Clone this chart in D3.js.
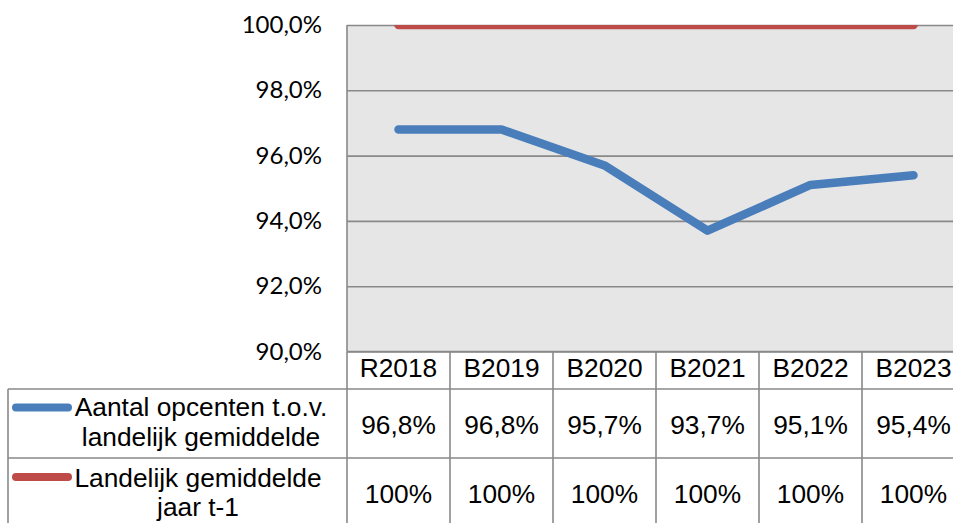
<!DOCTYPE html>
<html>
<head>
<meta charset="utf-8">
<script src="https://cdn.jsdelivr.net/npm/d3@7"></script>
<style>
  body { margin: 0; background: #fff; }
  svg { display: block; }
  .tick-label { font-family: Lato, "Open Sans", sans-serif; font-size: 24px; fill: #000; }
  .tbl { font-family: "Liberation Sans", Arial, sans-serif; font-size: 26.3px; fill: #000; }
</style>
</head>
<body>
<svg id="chart" width="953" height="523"></svg>
<script>
// chart values
var categories = ["R2018", "B2019", "B2020", "B2021", "B2022", "B2023"];
var seriesNames = [["Aantal opcenten t.o.v.", "landelijk gemiddelde"], ["Landelijk gemiddelde", "jaar t-1"]];
var opcenten = [0.968, 0.968, 0.957, 0.937, 0.951, 0.954];
var landelijk = [1.00, 1.00, 1.00, 1.00, 1.00, 1.00];
var opcentenLabels = ["96,8%", "96,8%", "95,7%", "93,7%", "95,1%", "95,4%"];
var landelijkLabels = ["100%", "100%", "100%", "100%", "100%", "100%"];
var yTicks = [0.90, 0.92, 0.94, 0.96, 0.98, 1.00];

var colors = ["#4a7ebb", "#be4b48"];

var svg = d3.select("#chart");
var plotLeft = 347, colW = 103,
    plotTop = 25, plotBottom = 351.5,
    tableLeft = 8;
var plotRight = plotLeft + colW * categories.length;

var x = d3.scaleBand()
  .domain(categories)
  .range([plotLeft, plotRight])
  .paddingInner(0).paddingOuter(0);

var y = d3.scaleLinear()
  .domain([0.90, 1.00])
  .range([plotBottom, plotTop]);

var fmt = function (v) { return d3.format(".1%")(v).replace(".", ","); };

// plot background
svg.append("rect")
  .attr("x", plotLeft).attr("y", plotTop)
  .attr("width", plotRight - plotLeft).attr("height", plotBottom - plotTop)
  .attr("fill", "#e6e6e6");

svg.append("defs").append("clipPath")
  .attr("id", "clip")
  .append("rect")
  .attr("x", plotLeft).attr("y", plotTop)
  .attr("width", plotRight - plotLeft).attr("height", plotBottom - plotTop);

// gridlines
var grid = svg.append("g")
  .attr("transform", "translate(" + plotLeft + ",0)")
  .call(d3.axisLeft(y).tickValues(yTicks).tickSize(-(plotRight - plotLeft)).tickFormat(""));
grid.select(".domain").remove();
grid.selectAll(".tick line").attr("stroke", "#898989").attr("stroke-width", 1.6);

// y labels
var yAxis = svg.append("g")
  .attr("transform", "translate(" + plotLeft + ",0)")
  .call(d3.axisLeft(y).tickValues(yTicks).tickSize(0).tickPadding(25).tickFormat(fmt));
yAxis.select(".domain").remove();
yAxis.selectAll("text").attr("class", "tick-label");
yAxis.attr("font-size", null).attr("font-family", null);

// y axis line
svg.append("line")
  .attr("x1", plotLeft).attr("x2", plotLeft)
  .attr("y1", plotTop).attr("y2", plotBottom)
  .attr("stroke", "#898989").attr("stroke-width", 1.6);

// lines
var line = d3.line()
  .x(function (d, i) { return x(categories[i]) + x.bandwidth() / 2; })
  .y(function (d) { return y(d); });

var plot = svg.append("g").attr("clip-path", "url(#clip)");
[landelijk, opcenten].forEach(function (s, k) {
  plot.append("path")
    .datum(s)
    .attr("d", line)
    .attr("fill", "none")
    .attr("stroke", k == 0 ? colors[1] : colors[0])
    .attr("stroke-width", 8.5)
    .attr("stroke-linecap", "round")
    .attr("stroke-linejoin", "round");
});

// data table
var headTop = plotBottom, row1Top = 389, row2Top = 458, row2Bot = 527;
var lineColor = "#898989";
var t = svg.append("g");

t.append("line").attr("x1", plotLeft).attr("x2", plotRight).attr("y1", headTop).attr("y2", headTop)
  .attr("stroke", lineColor).attr("stroke-width", 1.6);
[row1Top, row2Top].forEach(function (yy) {
  t.append("line").attr("x1", tableLeft).attr("x2", plotRight).attr("y1", yy).attr("y2", yy)
    .attr("stroke", lineColor).attr("stroke-width", 1.6);
});
t.append("line").attr("x1", tableLeft).attr("x2", tableLeft).attr("y1", row1Top).attr("y2", row2Bot)
  .attr("stroke", lineColor).attr("stroke-width", 1.6);
categories.concat([null]).forEach(function (c) {
  var xx = c ? x(c) : plotRight;
  t.append("line").attr("x1", xx).attr("x2", xx).attr("y1", headTop).attr("y2", row2Bot)
    .attr("stroke", lineColor).attr("stroke-width", 1.6);
});

t.selectAll(".head").data(categories).enter().append("text")
  .attr("class", "tbl")
  .attr("x", function (d) { return x(d) + x.bandwidth() / 2; })
  .attr("y", 377)
  .attr("text-anchor", "middle")
  .text(function (d) { return d; });

[[opcentenLabels, 434], [landelijkLabels, 503]].forEach(function (r) {
  t.selectAll(null).data(r[0]).enter().append("text")
    .attr("class", "tbl")
    .attr("x", function (d, i) { return x(categories[i]) + x.bandwidth() / 2; })
    .attr("y", r[1])
    .attr("text-anchor", "middle")
    .text(function (d) { return d; });
});

// legend keys + series names
var keyY = [407.5, 477];
var nameY = [[416, 446], [487, 516]];
var nameX = [201, 198];
[colors[0], colors[1]].forEach(function (c, k) {
  t.append("line")
    .attr("x1", 16).attr("x2", 68)
    .attr("y1", keyY[k]).attr("y2", keyY[k])
    .attr("stroke", c).attr("stroke-width", 8)
    .attr("stroke-linecap", "round");
  seriesNames[k].forEach(function (s, j) {
    t.append("text")
      .attr("class", "tbl")
      .attr("x", nameX[k]).attr("y", nameY[k][j])
      .attr("text-anchor", "middle")
      .text(s);
  });
});
</script>
</body>
</html>
